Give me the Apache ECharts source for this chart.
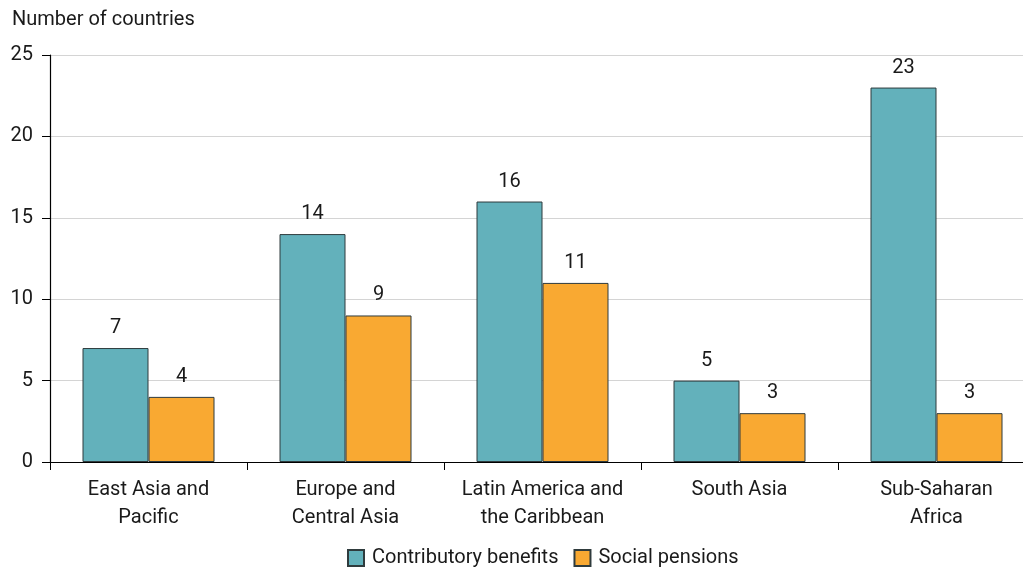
<!DOCTYPE html>
<html>
<head>
<meta charset="utf-8">
<script src="https://cdn.jsdelivr.net/npm/echarts@6/dist/echarts.min.js"></script>
<style>
  html, body { margin: 0; padding: 0; background: #fff; }
  #chart { width: 1023px; height: 567px; }
</style>
</head>
<body>
<div id="chart"></div>
<script>
// Regions and counts of countries by benefit type
const regions = [
  'East Asia and\nPacific',
  'Europe and\nCentral Asia',
  'Latin America and\nthe Caribbean',
  'South Asia',
  'Sub-Saharan\nAfrica'
];
const contributory = [7, 14, 16, 5, 23];
const socialPensions = [4, 9, 11, 3, 3];
const seriesNames = ['Contributory benefits', 'Social pensions'];
const yAxisTitle = 'Number of countries';

const FONT = 'Roboto, "Liberation Sans", sans-serif';
const TEXT = '#1a1a1a';
const FS = 20;

const chart = echarts.init(document.getElementById('chart'), null, { renderer: 'canvas' });

const barStyle = (color) => ({
  color: color,
  borderColor: '#2f3b3d',
  borderWidth: 1
});

const valueLabel = {
  show: true,
  position: 'top',
  distance: 10,
  fontFamily: FONT,
  fontSize: FS,
  color: TEXT
};

chart.setOption({
  animation: false,
  textStyle: { fontFamily: FONT },
  title: {
    text: yAxisTitle,
    left: 7,
    top: 5,
    textStyle: { fontFamily: FONT, fontSize: FS, fontWeight: 'normal', color: TEXT }
  },
  legend: {
    top: 548,
    left: 347,
    padding: 0,
    itemWidth: 16,
    itemHeight: 16,
    itemGap: 15,
    icon: 'rect',
    textStyle: { fontFamily: FONT, fontSize: FS, color: TEXT, padding: [0, 0, 0, 3] },
    data: seriesNames
  },
  grid: { left: 50, top: 55, width: 985, height: 407, outerBoundsMode: 'none' },
  xAxis: {
    type: 'category',
    data: regions,
    axisLine: { lineStyle: { color: '#000', width: 1.2 } },
    axisTick: { show: true, length: 8, lineStyle: { color: '#000' } },
    axisLabel: {
      fontFamily: FONT,
      fontSize: FS,
      color: TEXT,
      lineHeight: 28,
      margin: 14,
      interval: 0
    }
  },
  yAxis: {
    type: 'value',
    min: 0,
    max: 25,
    interval: 5,
    axisLine: { show: true, lineStyle: { color: '#000', width: 1.2 } },
    axisTick: { show: true, length: 8, lineStyle: { color: '#000' } },
    axisLabel: { fontFamily: FONT, fontSize: FS, color: TEXT, margin: 17 },
    splitLine: { lineStyle: { color: '#d4d4d4', width: 1.2 } }
  },
  series: [
    {
      name: seriesNames[0],
      type: 'bar',
      data: contributory,
      barWidth: 66,
      barGap: '0%',
      itemStyle: barStyle('#63b1bb'),
      label: valueLabel
    },
    {
      name: seriesNames[1],
      type: 'bar',
      data: socialPensions,
      barWidth: 66,
      barGap: '0%',
      itemStyle: barStyle('#f9a932'),
      label: valueLabel
    }
  ]
});
</script>
</body>
</html>
